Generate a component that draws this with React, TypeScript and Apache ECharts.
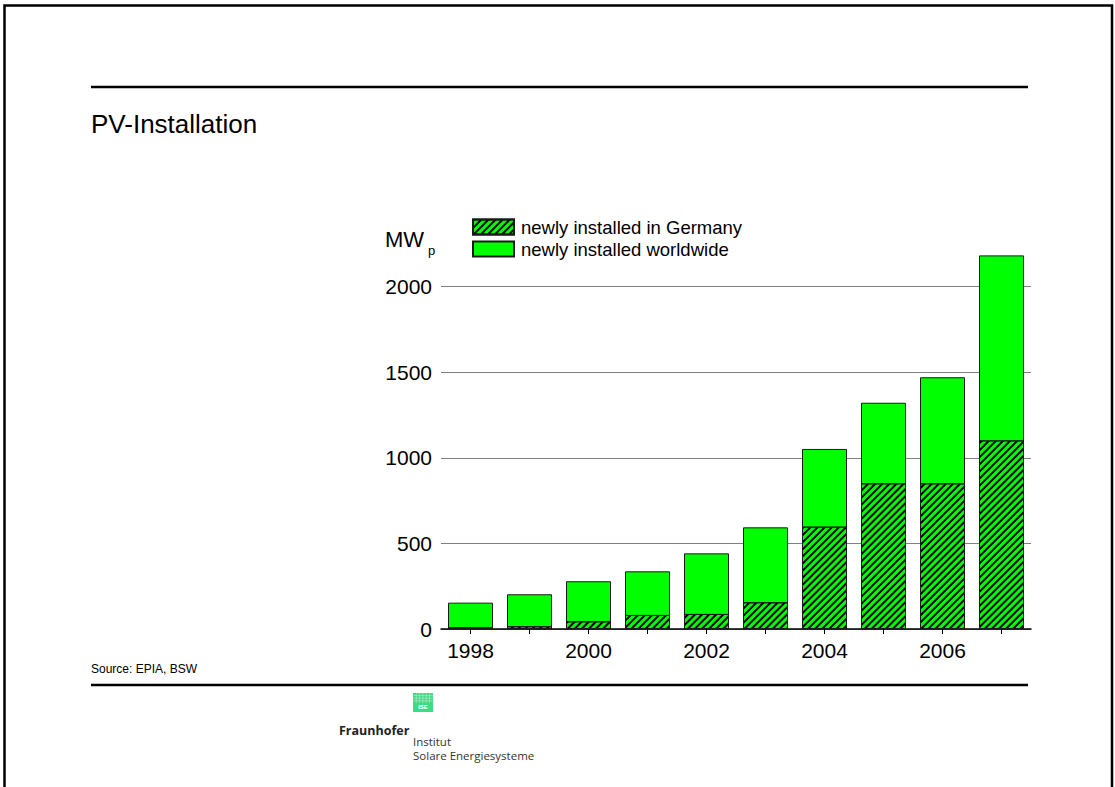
import React, { useEffect, useRef } from "react";
import * as echarts from "echarts";

const years = ["1998", "1999", "2000", "2001", "2002", "2003", "2004", "2005", "2006", "2007"];
const worldwide = [154, 203, 279, 337, 442, 594, 1052, 1322, 1471, 2183];
const germany = [10, 16, 45, 82, 88, 156, 598, 851, 851, 1102];
const yTicks = [0, 500, 1000, 1500, 2000];
const seriesNames = ["newly installed in Germany", "newly installed worldwide"];

const FONT = "Arial, 'Liberation Sans', Helvetica, sans-serif";

export default function App() {
  const ref = useRef<HTMLDivElement>(null);
  useEffect(() => {
    if (!ref.current) return;
    const chart = echarts.init(ref.current, null, { renderer: "svg" });
    const green = "#00ff00";
    const logoGrid: any[] = [];
    for (let i = 1; i < 6; i++) {
      logoGrid.push({
        type: "line",
        shape: { x1: 413 + i * 3.3, y1: 693, x2: 413 + i * 3.3, y2: 703 },
        style: { stroke: "rgba(255,255,255,0.55)", lineWidth: 0.6 },
      });
    }
    for (let i = 1; i < 4; i++) {
      logoGrid.push({
        type: "line",
        shape: { x1: 413, y1: 693 + i * 2.6, x2: 433, y2: 693 + i * 2.6 },
        style: { stroke: "rgba(255,255,255,0.55)", lineWidth: 0.6 },
      });
    }
    chart.setOption({
      animation: false,
      backgroundColor: "#ffffff",
      textStyle: { fontFamily: FONT },
      grid: { left: 441, right: 84, top: 286.7, bottom: 158, containLabel: false },
      legend: {
        orient: "vertical",
        left: 472,
        top: 217.5,
        padding: 0,
        itemWidth: 41,
        itemHeight: 15,
        itemGap: 3,
        icon: "rect",
        data: seriesNames,
        textStyle: {
          fontSize: 18.5,
          lineHeight: 15,
          color: "#000",
          fontFamily: FONT,
          padding: [0, 0, 0, 2],
        },
        selectedMode: false,
      },
      xAxis: {
        type: "category",
        data: years,
        axisLine: { lineStyle: { color: "#000", width: 1.5 } },
        axisTick: { show: true, alignWithLabel: true, interval: 0, length: 5, lineStyle: { color: "#000" } },
        axisLabel: { interval: 1, fontSize: 21, color: "#000", margin: 11, fontFamily: FONT },
      },
      yAxis: {
        type: "value",
        min: 0,
        max: 2000,
        interval: 500,
        axisLine: { show: false },
        axisTick: { show: false },
        axisLabel: {
          fontSize: 21,
          color: "#000",
          margin: 9,
          fontFamily: FONT,
          formatter: (v: number) => (yTicks.includes(v) ? String(v) : ""),
        },
        splitLine: { lineStyle: { color: "#808080", width: 1 } },
      },
      series: [
        {
          name: seriesNames[1],
          type: "bar",
          data: worldwide,
          barWidth: 45,
          clip: false,
          z: 2,
          itemStyle: { color: green, borderColor: "#1a1a1a", borderWidth: 1 },
        },
        {
          name: seriesNames[0],
          type: "bar",
          data: germany,
          barWidth: 45,
          barGap: "-100%",
          clip: false,
          z: 3,
          itemStyle: {
            color: green,
            borderColor: "#1a1a1a",
            borderWidth: 1,
            decal: {
              symbol: "rect",
              symbolSize: 1,
              color: "#000",
              dashArrayX: [1, 0],
              dashArrayY: [1.1, 2.5],
              rotation: -Math.PI / 4,
            },
          },
        },
      ],
      graphic: [
        {
          type: "rect",
          shape: { x: 4.5, y: 5.5, width: 1107.5, height: 800 },
          style: { fill: "none", stroke: "#000", lineWidth: 2.5 },
          silent: true,
        },
        {
          type: "line",
          shape: { x1: 91, y1: 87, x2: 1028, y2: 87 },
          style: { stroke: "#000", lineWidth: 2.5 },
        },
        {
          type: "text",
          x: 91,
          y: 124,
          style: { text: "PV-Installation", font: `26px ${FONT}`, fill: "#000", textVerticalAlign: "middle" },
        },
        {
          type: "text",
          x: 385,
          y: 239,
          style: { text: "MW", font: `22px ${FONT}`, fill: "#000", textVerticalAlign: "middle" },
        },
        {
          type: "text",
          x: 428,
          y: 250,
          style: { text: "p", font: `13px ${FONT}`, fill: "#000", textVerticalAlign: "middle" },
        },
        {
          type: "text",
          x: 91,
          y: 669,
          style: { text: "Source: EPIA, BSW", font: `12px ${FONT}`, fill: "#000", textVerticalAlign: "middle" },
        },
        {
          type: "line",
          shape: { x1: 91, y1: 685, x2: 1028, y2: 685 },
          style: { stroke: "#000", lineWidth: 2.5 },
        },
        {
          type: "rect",
          shape: { x: 413, y: 693, width: 20, height: 19 },
          style: { fill: "#3ddc84" },
        },
        ...logoGrid,
        {
          type: "text",
          x: 423,
          y: 706.5,
          style: { text: "ISE", font: `bold 6px ${FONT}`, fill: "#ffffff", textAlign: "center", textVerticalAlign: "middle" },
        },
        {
          type: "text",
          x: 339,
          y: 730,
          style: { text: "Fraunhofer", font: `bold 12.5px 'Open Sans', ${FONT}`, fill: "#222", textVerticalAlign: "middle" },
        },
        {
          type: "text",
          x: 413,
          y: 741,
          style: { text: "Institut", font: `11.5px 'Open Sans', ${FONT}`, fill: "#333", textVerticalAlign: "middle" },
        },
        {
          type: "text",
          x: 413,
          y: 755,
          style: { text: "Solare Energiesysteme", font: `11.5px 'Open Sans', ${FONT}`, fill: "#333", textVerticalAlign: "middle" },
        },
      ],
    });
    return () => chart.dispose();
  }, []);
  return (
    <div
      ref={ref}
      style={{ position: "fixed", left: 0, top: 0, width: 1115, height: 787, background: "#fff" }}
    />
  );
}
